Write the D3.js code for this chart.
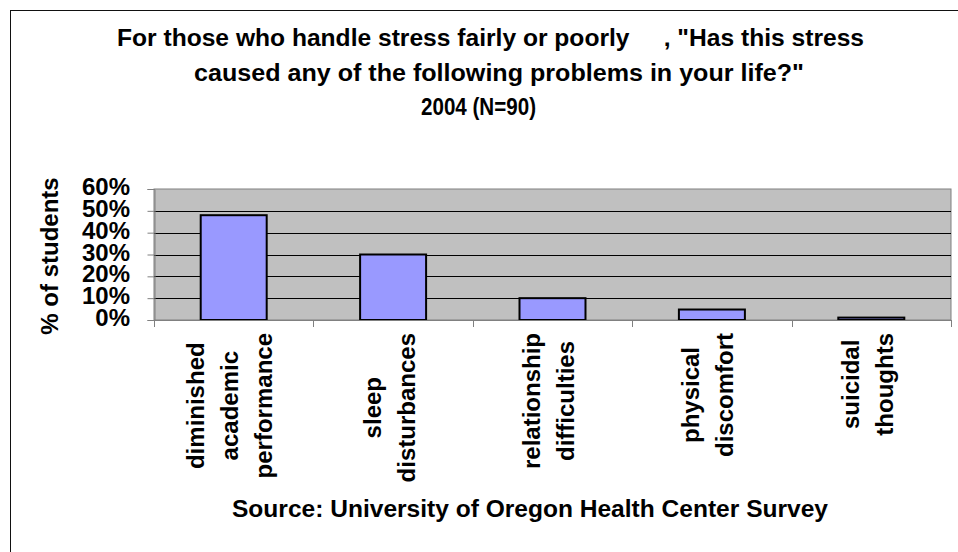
<!DOCTYPE html>
<html>
<head>
<meta charset="utf-8">
<script src="https://cdn.jsdelivr.net/npm/d3@7"></script>
<style>
  html, body { margin: 0; padding: 0; background: #fff; }
  svg { display: block; }
  text { font-family: "Liberation Sans", Arial, sans-serif; font-weight: bold; fill: #000; }
</style>
</head>
<body>
<svg id="chart" width="958" height="552"></svg>
<script>
// ---- data ----
const categories = ["diminished academic performance", "sleep disturbances", "relationship difficulties", "physical discomfort", "suicidal thoughts"];
const categoryLines = [["diminished", "academic", "performance"], ["sleep", "disturbances"], ["relationship", "difficulties"], ["physical", "discomfort"], ["suicidal", "thoughts"]];
const values = [0.48, 0.30, 0.10, 0.048, 0.011];
const yTicks = [0, 0.1, 0.2, 0.3, 0.4, 0.5, 0.6];
const yTickLabels = ["0%", "10%", "20%", "30%", "40%", "50%", "60%"];
const titleLines = ["For those who handle stress fairly or poorly     , \"Has this stress", "caused any of the following problems in your life?\"", "2004 (N=90)"];
const yAxisTitle = "% of students";
const sourceText = "Source: University of Oregon Health Center Survey";

// ---- layout ----
const svg = d3.select("#chart");
const plot = { left: 154, right: 951, top: 189, bottom: 320 };

// outer frame (extends beyond right/bottom of view)
svg.append("rect")
  .attr("x", 10.5).attr("y", 10.5)
  .attr("width", 1000).attr("height", 1000)
  .attr("fill", "none").attr("stroke", "#111").attr("stroke-width", 1);

const x = d3.scaleBand()
  .domain(categories)
  .range([plot.left, plot.right])
  .paddingInner(0.586)
  .paddingOuter(0.293);

const y = d3.scaleLinear().domain([0, 0.6]).range([plot.bottom, plot.top]);

// plot background
svg.append("rect")
  .attr("x", plot.left).attr("y", plot.top)
  .attr("width", plot.right - plot.left).attr("height", plot.bottom - plot.top)
  .attr("fill", "#c0c0c0").attr("stroke", "#808080").attr("stroke-width", 1);

// gridlines
svg.append("g").selectAll("line")
  .data(yTicks.filter(d => d > 0 && d < 0.6))
  .join("line")
  .attr("x1", plot.left).attr("x2", plot.right)
  .attr("y1", d => Math.round(y(d)) + 0.5).attr("y2", d => Math.round(y(d)) + 0.5)
  .attr("stroke", "#000").attr("stroke-width", 1);

// bars
svg.append("g").selectAll("rect")
  .data(values)
  .join("rect")
  .attr("x", (d, i) => x(categories[i]))
  .attr("y", d => y(d))
  .attr("width", x.bandwidth())
  .attr("height", d => y(0) - y(d))
  .attr("fill", "#9999ff")
  .attr("stroke", "#000")
  .attr("stroke-width", 2);

// y axis
const yAxis = d3.axisLeft(y).tickValues(yTicks).tickSize(7).tickFormat("");
const gy = svg.append("g").attr("transform", `translate(${plot.left + 0.5},0)`).call(yAxis);
gy.select(".domain").attr("stroke", "#808080");
gy.selectAll(".tick line").attr("stroke", "#808080");

// y tick labels
svg.append("g").selectAll("text")
  .data(yTicks)
  .join("text")
  .attr("x", 130)
  .attr("y", d => y(d) + 6)
  .attr("text-anchor", "end")
  .attr("font-size", 24)
  .text((d, i) => yTickLabels[i]);

// x axis with ticks at category boundaries
const step = x.step();
const boundaries = d3.range(categories.length + 1).map(i => plot.left + i * step);
const gx = svg.append("g");
gx.append("line")
  .attr("x1", plot.left).attr("x2", plot.right)
  .attr("y1", plot.bottom + 0.5).attr("y2", plot.bottom + 0.5)
  .attr("stroke", "#808080");
gx.selectAll("line.tk")
  .data(boundaries)
  .join("line")
  .attr("class", "tk")
  .attr("x1", d => Math.round(d) + 0.5).attr("x2", d => Math.round(d) + 0.5)
  .attr("y1", plot.bottom).attr("y2", plot.bottom + 7)
  .attr("stroke", "#808080");

// x category labels (rotated, multi-line, block top-anchored near axis)
const lineGap = 34;
const labelTop = 333;
categories.forEach((c, i) => {
  const lines = categoryLines[i];
  const cx = x(c) + x.bandwidth() / 2 - 4;
  const g = svg.append("g");
  const texts = g.selectAll("text").data(lines).join("text")
    .attr("font-size", 24)
    .attr("text-anchor", "middle")
    .attr("dy", "0.35em")
    .text(d => d);
  let maxW = 0;
  texts.each(function () { maxW = Math.max(maxW, this.getComputedTextLength()); });
  const cy = labelTop + maxW / 2;
  texts.attr("transform", (d, j) => `translate(${cx + (j - (lines.length - 1) / 2) * lineGap},${cy}) rotate(-90)`);
});

// y axis title
svg.append("text")
  .attr("transform", "translate(50,256) rotate(-90)")
  .attr("text-anchor", "middle")
  .attr("dy", "0.35em")
  .attr("font-size", 24)
  .text(yAxisTitle);

// title
const titleSpecs = [
  { x: 117, y: 46, w: 747 },
  { x: 194, y: 81, w: 610 },
  { x: 421, y: 115, w: 115 }
];
svg.append("g").selectAll("text")
  .data(titleLines)
  .join("text")
  .attr("x", (d, i) => titleSpecs[i].x)
  .attr("y", (d, i) => titleSpecs[i].y)
  .attr("font-size", 23)
  .attr("textLength", (d, i) => titleSpecs[i].w)
  .attr("lengthAdjust", "spacingAndGlyphs")
  .style("white-space", "pre")
  .text(d => d);

// source
svg.append("text")
  .attr("x", 232).attr("y", 517)
  .attr("font-size", 23)
  .attr("textLength", 596)
  .attr("lengthAdjust", "spacingAndGlyphs")
  .text(sourceText);
</script>
</body>
</html>
